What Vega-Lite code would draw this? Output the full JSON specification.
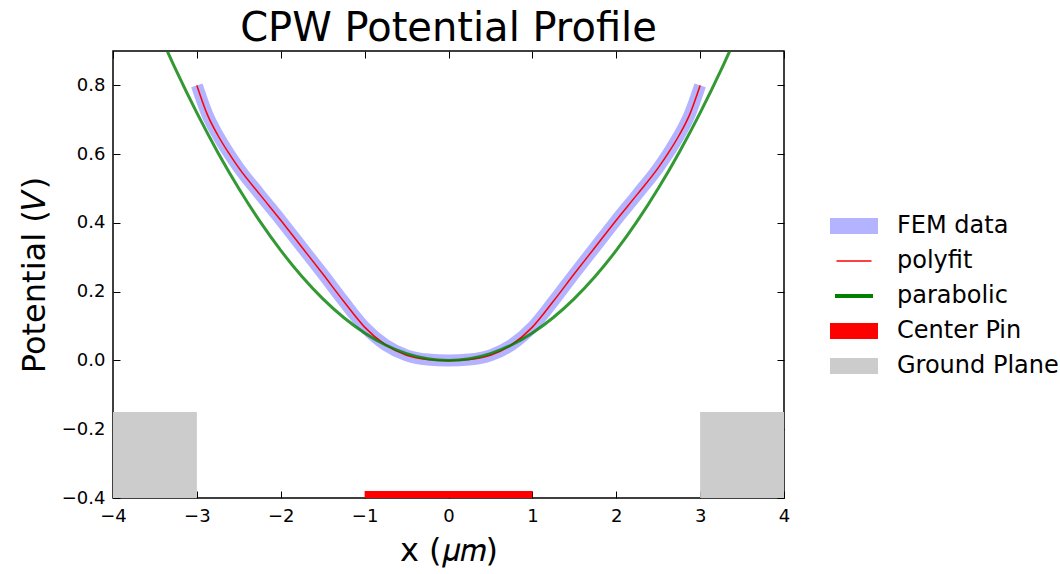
{
  "$schema": "https://vega.github.io/schema/vega-lite/v6.json",
  "width": 671,
  "height": 447,
  "autosize": "none",
  "padding": {"left": 113, "top": 51, "right": 276, "bottom": 76},
  "background": "white",
  "title": {"text": "CPW Potential Profile", "fontSize": 40, "font": "DejaVu Sans", "fontWeight": "normal", "color": "black", "anchor": "middle", "offset": 2},
  "datasets": {
    "ground": [
      {"x": -4, "x2": -3, "y": -0.4, "y2": -0.15, "series": "Ground Plane"},
      {"x": 3, "x2": 4, "y": -0.4, "y2": -0.15, "series": "Ground Plane"}
    ],
    "pin": [
      {"x": -1, "x2": 1, "y": -0.4, "y2": -0.38, "series": "Center Pin"}
    ],
    "fem": [
      {"x": -3, "y": 0.8}, {"x": -2.875, "y": 0.715}, {"x": -2.75, "y": 0.655}, {"x": -2.625, "y": 0.605},
      {"x": -2.5, "y": 0.56}, {"x": -2.25, "y": 0.483}, {"x": -2, "y": 0.408}, {"x": -1.75, "y": 0.33},
      {"x": -1.5, "y": 0.252}, {"x": -1.25, "y": 0.172}, {"x": -1, "y": 0.097}, {"x": -0.75, "y": 0.045},
      {"x": -0.5, "y": 0.015}, {"x": -0.25, "y": 0.003}, {"x": 0, "y": 0},
      {"x": 0.25, "y": 0.003}, {"x": 0.5, "y": 0.015}, {"x": 0.75, "y": 0.045}, {"x": 1, "y": 0.097},
      {"x": 1.25, "y": 0.172}, {"x": 1.5, "y": 0.252}, {"x": 1.75, "y": 0.33}, {"x": 2, "y": 0.408},
      {"x": 2.25, "y": 0.483}, {"x": 2.5, "y": 0.56}, {"x": 2.625, "y": 0.605}, {"x": 2.75, "y": 0.655},
      {"x": 2.875, "y": 0.715}, {"x": 3, "y": 0.8}
    ],
    "parab": [
      {"x": -3.5, "y": 0.98}, {"x": -3.25, "y": 0.845}, {"x": -3, "y": 0.72}, {"x": -2.75, "y": 0.605},
      {"x": -2.5, "y": 0.5}, {"x": -2.25, "y": 0.405}, {"x": -2, "y": 0.32}, {"x": -1.75, "y": 0.245},
      {"x": -1.5, "y": 0.18}, {"x": -1.25, "y": 0.125}, {"x": -1, "y": 0.08}, {"x": -0.75, "y": 0.045},
      {"x": -0.5, "y": 0.02}, {"x": -0.25, "y": 0.005}, {"x": 0, "y": 0},
      {"x": 0.25, "y": 0.005}, {"x": 0.5, "y": 0.02}, {"x": 0.75, "y": 0.045}, {"x": 1, "y": 0.08},
      {"x": 1.25, "y": 0.125}, {"x": 1.5, "y": 0.18}, {"x": 1.75, "y": 0.245}, {"x": 2, "y": 0.32},
      {"x": 2.25, "y": 0.405}, {"x": 2.5, "y": 0.5}, {"x": 2.75, "y": 0.605}, {"x": 3, "y": 0.72},
      {"x": 3.25, "y": 0.845}, {"x": 3.5, "y": 0.98}
    ]
  },
  "layer": [
    {
      "data": {"name": "ground"},
      "mark": {"type": "rect", "strokeWidth": 0},
      "encoding": {
        "x": {"field": "x", "type": "quantitative", "scale": {"domain": [-4, 4], "nice": false, "zero": false},
              "axis": {"orient": "bottom", "title": "x (𝜇𝑚)", "values": [-4, -3, -2, -1, 0, 1, 2, 3, 4], "format": "d"}},
        "x2": {"field": "x2"},
        "y": {"field": "y", "type": "quantitative", "scale": {"domain": [-0.4, 0.9], "nice": false, "zero": false},
              "axis": {"orient": "left", "title": "Potential (𝑉)", "values": [-0.4, -0.2, 0, 0.2, 0.4, 0.6, 0.8], "format": ".1f"}},
        "y2": {"field": "y2"},
        "color": {"field": "series", "type": "nominal",
                  "scale": {"domain": ["FEM data", "polyfit", "parabolic", "Center Pin", "Ground Plane"],
                            "range": ["#b3b3ff", "#ff0000", "#008000", "#ff0000", "#cccccc"]},
                  "legend": {
                    "title": null, "orient": "none", "legendX": 729, "legendY": 163,
                    "symbolSize": 400, "labelOffset": 31, "rowPadding": 11, "padding": 0, "labelLimit": 0,
                    "labelFontSize": 24, "labelFont": "DejaVu Sans", "labelColor": "black",
                    "encode": {
                      "symbols": {"update": {
                        "shape": {"signal": "datum.value == 'polyfit' ? 'M-1.75,0H1.75' : datum.value == 'parabolic' ? 'M-1.9,0H1.9' : 'M-2.4,-0.8H2.4V0.8H-2.4Z'"},
                        "fill": {"signal": "(datum.value == 'polyfit' || datum.value == 'parabolic') ? 'transparent' : scale('color', datum.value)"},
                        "stroke": {"signal": "datum.value == 'parabolic' ? '#339933' : datum.value == 'polyfit' ? '#ff0000' : 'transparent'"},
                        "strokeWidth": {"signal": "datum.value == 'parabolic' ? 4 : datum.value == 'polyfit' ? 1.5 : 0"},
                        "opacity": {"value": 1},
                        "fillOpacity": {"value": 1},
                        "strokeOpacity": {"value": 1}
                      }}
                    }
                  }}
      }
    },
    {
      "data": {"name": "pin"},
      "mark": {"type": "rect", "strokeWidth": 0},
      "encoding": {
        "x": {"field": "x", "type": "quantitative", "axis": {"orient": "top", "labels": false, "title": null, "values": [-4, -3, -2, -1, 0, 1, 2, 3, 4]}},
        "x2": {"field": "x2"},
        "y": {"field": "y", "type": "quantitative", "axis": {"orient": "right", "labels": false, "title": null, "values": [-0.4, -0.2, 0, 0.2, 0.4, 0.6, 0.8]}},
        "y2": {"field": "y2"},
        "color": {"field": "series", "type": "nominal"}
      }
    },
    {
      "data": {"name": "fem"},
      "transform": [{"calculate": "'FEM data'", "as": "series"}],
      "mark": {"type": "line", "strokeWidth": 12, "strokeCap": "butt", "strokeJoin": "round", "interpolate": "monotone"},
      "encoding": {
        "x": {"field": "x", "type": "quantitative", "axis": null},
        "y": {"field": "y", "type": "quantitative", "axis": null},
        "color": {"field": "series", "type": "nominal"}
      }
    },
    {
      "data": {"name": "fem"},
      "transform": [{"calculate": "'polyfit'", "as": "series"}],
      "mark": {"type": "line", "strokeWidth": 1.5, "interpolate": "monotone"},
      "encoding": {
        "x": {"field": "x", "type": "quantitative", "axis": null},
        "y": {"field": "y", "type": "quantitative", "axis": null},
        "color": {"field": "series", "type": "nominal"}
      }
    },
    {
      "data": {"name": "parab"},
      "transform": [{"calculate": "'parabolic'", "as": "series"}],
      "mark": {"type": "line", "strokeWidth": 3, "opacity": 0.8, "interpolate": "monotone", "clip": true},
      "encoding": {
        "x": {"field": "x", "type": "quantitative", "axis": null},
        "y": {"field": "y", "type": "quantitative", "axis": null},
        "color": {"field": "series", "type": "nominal"}
      }
    }
  ],
  "config": {
    "view": {"stroke": "black", "strokeWidth": 1.5},
    "axis": {
      "domain": false, "grid": false, "tickSize": -7, "tickColor": "black", "tickWidth": 1,
      "labelFont": "DejaVu Sans", "labelFontSize": 18, "labelColor": "black", "labelFlush": false,
      "titleFont": "DejaVu Sans", "titleFontSize": 32, "titleFontWeight": "normal", "titleColor": "black",
      "zindex": 1
    },
    "axisBottom": {"labelPadding": 16, "titlePadding": 10},
    "axisLeft": {"labelPadding": 15, "titlePadding": 10}
  }
}
